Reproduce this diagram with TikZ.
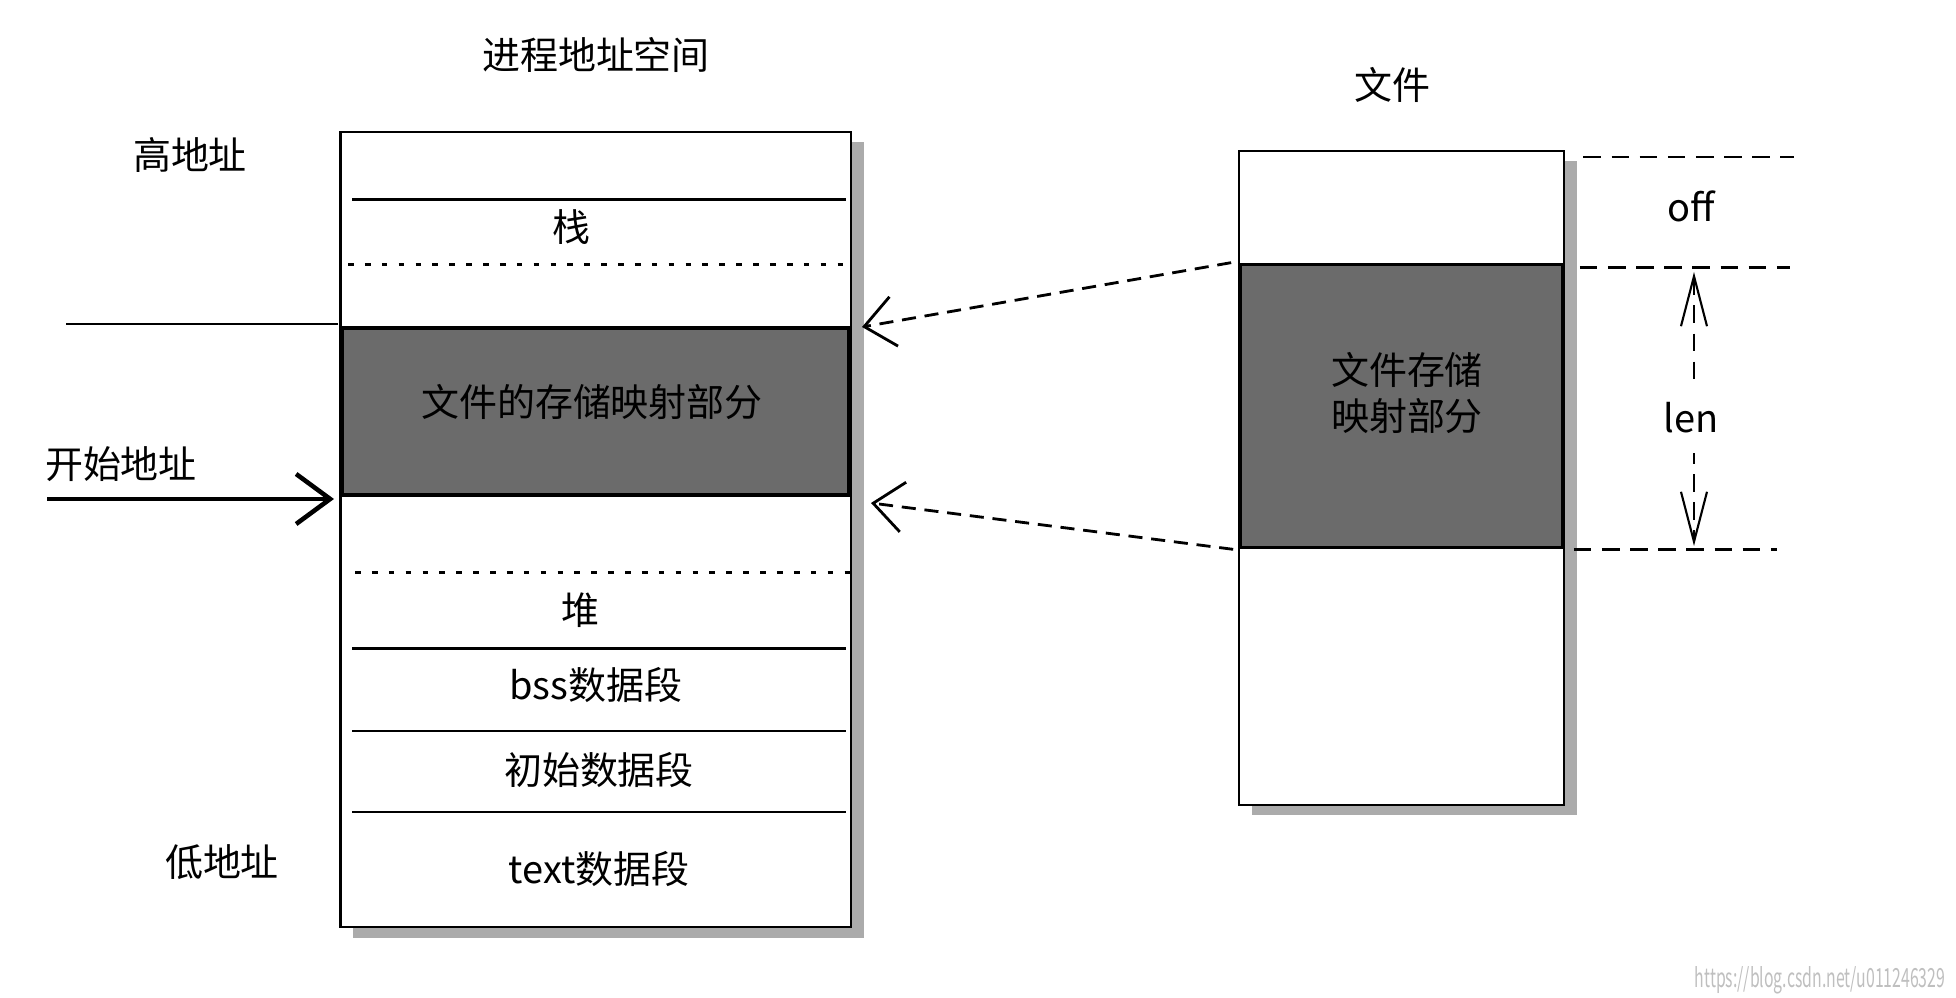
\documentclass[tikz,border=0pt]{standalone}
\usepackage{fontspec}
\setmainfont{Noto Sans CJK SC}
\usetikzlibrary{arrows.meta,shadows}
\tikzset{
  mem/.style   = {draw, fill=white, line width=0.6pt, inner sep=0pt,
                  drop shadow={shadow xshift=1.3mm, shadow yshift=-1.05mm,
                  fill=black!33, opacity=1}},
  mapr/.style  = {draw, fill=black!58, line width=1pt, inner sep=0pt},
  sep/.style   = {line width=0.8pt},
  dsep/.style  = {line width=0.8pt, dash pattern=on 1.6pt off 3.2pt},
  lbl/.style   = {font=\fontsize{10.8}{12.8}\selectfont, inner sep=1pt,
                  align=center},
  dim/.style   = {line width=0.7pt, dash pattern=on 5pt off 3pt},
  dimar/.style = {line width=0.6pt, dash pattern=on 5pt off 3pt,
                  {Straight Barb[length=5mm,width=2.6mm]}-{Straight Barb[length=5mm,width=2.6mm]}},
  link/.style  = {line width=0.8pt, dash pattern=on 4pt off 2.5pt,
                  -{Straight Barb[length=3mm,width=5mm]}},
  start/.style = {line width=1.3pt, -{Straight Barb[length=3.4mm,width=5mm]}},
  wmark/.style = {font=\fontsize{7.5}{8}\selectfont, text=black!25, inner sep=0pt},
}
\begin{document}
\begin{tikzpicture}[x=0.01cm, y=-0.01cm]
  \useasboundingbox (0,0) rectangle (1956,998);
  % process address space
  \node[lbl] (ttl) at (596,55) {进程地址空间};
  \node[mem, minimum width=5.10cm, minimum height=7.95cm] (proc) at (595.6,529.5) {};
  \node[mapr, minimum width=5.07cm, minimum height=1.67cm] (map) at (595.5,411.5) {};
  \node[lbl] (maptx) at (592,402) {文件的存储映射部分};
  \draw[sep]  (352,199.6) -- (846,199.6);
  \draw[dsep] (348,264.5) -- (850,264.5);
  \draw[dsep] (355,572.6) -- (850,572.6);
  \draw[sep]  (352,648.6) -- (846,648.6);
  \draw[sep]  (352,731) -- (846,731);
  \draw[sep]  (352,812) -- (846,812);
  \node[lbl] (stk)  at (571,227) {栈};
  \node[lbl] (heap) at (580,610) {堆};
  \node[lbl] (bss)  at (596,685) {bss数据段};
  \node[lbl] (init) at (599,770) {初始数据段};
  \node[lbl] (txt)  at (599,869) {text数据段};
  \node[lbl] (hi)   at (190,155) {高地址};
  \node[lbl] (lo)   at (222,862) {低地址};
  \node[lbl] (sa)   at (121,464) {开始地址};
  \coordinate (s0) at (47,499);
  \coordinate (s1) at (334,499);
  \draw[start] (s0) -- (s1);
  \draw[line width=0.6pt] (map.north west) ++(-2,-2) -- ++(-272,0);
  % file
  \node[lbl] (ftl) at (1392,85) {文件};
  \node[mem, minimum width=3.256cm, minimum height=6.536cm] (file) at (1401.5,477.8) {};
  \node[mapr, minimum width=3.23cm, minimum height=2.83cm] (fmap) at (1401.5,406) {};
  \node[lbl] (fmaptx) at (1407,393) {文件存储\\映射部分};
  \draw[dim] (file.north east) ++(18,7) -- ++(211,0);
  \draw[dim] (fmap.north east) ++(15,5) -- ++(210,0);
  \draw[dim] (fmap.south east) ++(9,0) -- ++(203,0);
  \node[lbl] (off) at (1691,206) {off};
  \coordinate (lt) at (1694,272);
  \coordinate (lb) at (1694,546);
  \draw[dimar] (lt) -- (lb);
  \node[lbl, fill=white, minimum height=0.7cm] (len) at (1691,418) {len};
  % mapping
  \coordinate (a1) at (862,327);
  \coordinate (a2) at (871,503);
  \draw[link] ([xshift=-0.07cm]fmap.north west) -- (a1);
  \draw[link] ([xshift=-0.05cm]fmap.south west) -- (a2);
  \node[wmark, anchor=east] (wm) at (1946,980) {\scalebox{0.6}[1]{https://blog.csdn.net/u011246329}};
\end{tikzpicture}
\end{document}
